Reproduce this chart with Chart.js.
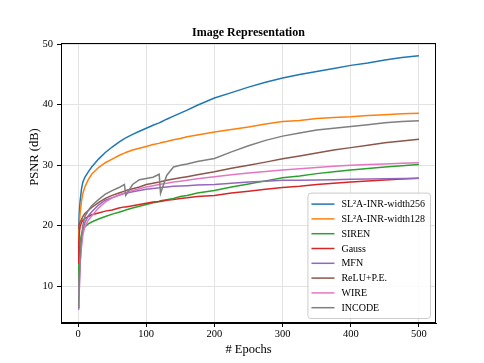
<!DOCTYPE html>
<html>
<head>
<meta charset="utf-8">
<script src="https://cdn.jsdelivr.net/npm/chart.js@4.4.0/dist/chart.umd.min.js"></script>
<style>
  body { margin: 0; background: #fff; }
  #wrap { width: 484px; height: 363px; }
</style>
</head>
<body>
<div id="wrap"><canvas id="psnrChart" width="484" height="363"></canvas></div>
<script>
// epochs sampled from the curves
const epochs = [0, 1, 2, 3, 5, 7, 10, 15, 20, 30, 40, 50, 60, 68, 70, 80, 90, 100, 110, 119, 121,
    130, 140, 150, 160, 175, 200, 225, 250, 275, 300, 325, 350, 375, 400, 425, 450, 475, 500];

const labels = ['SL²A-INR-width256', 'SL²A-INR-width128', 'SIREN', 'Gauss', 'MFN', 'ReLU+P.E.', 'WIRE', 'INCODE'];

const sl2aW256 = [17, 20, 22.5, 24, 26, 27.2, 28.0, 28.9, 29.7, 31.0, 32.1, 33.0, 33.8, 34.4, 34.5, 35.1, 35.6, 36.1, 36.6, 37.0, 37.1,
    37.6, 38.1, 38.6, 39.1, 39.9, 41.1, 42.0, 42.9, 43.7, 44.4, 45.0, 45.5, 46.0, 46.5, 46.9, 47.4, 47.8, 48.1];
const sl2aW128 = [16, 18.5, 20.5, 22, 24.0, 25.3, 26.4, 27.6, 28.5, 29.6, 30.4, 31.0, 31.6, 32.0, 32.1, 32.5, 32.8, 33.1, 33.4, 33.6, 33.7,
    33.9, 34.2, 34.4, 34.7, 35.0, 35.5, 35.9, 36.3, 36.8, 37.2, 37.4, 37.7, 37.9, 38.0, 38.2, 38.35, 38.5, 38.6];
const siren = [10, 13, 15.5, 17.2, 18.6, 19.3, 19.8, 20.3, 20.6, 21.1, 21.5, 21.9, 22.2, 22.5, 22.6, 22.9, 23.2, 23.5, 23.8, 24.0, 24.1,
    24.3, 24.5, 24.8, 25.0, 25.4, 25.8, 26.4, 26.9, 27.4, 27.9, 28.2, 28.6, 28.9, 29.2, 29.45, 29.7, 29.9, 30.1];
const gauss = [13.8, 17, 19, 19.8, 20.5, 20.9, 21.2, 21.5, 21.8, 22.1, 22.4, 22.6, 22.9, 23.1, 23.1, 23.3, 23.5, 23.7, 23.9, 24.0, 24.0,
    24.2, 24.3, 24.5, 24.6, 24.8, 25.0, 25.4, 25.7, 26.0, 26.3, 26.5, 26.8, 27.0, 27.2, 27.4, 27.55, 27.7, 27.85];
const mfn = [6.2, 7, 10, 13.5, 17, 19, 20.5, 21.6, 22.3, 23.4, 24.2, 24.6, 25.0, 25.3, 25.35, 25.6, 25.8, 26.0, 26.15, 26.25, 26.3,
    26.4, 26.5, 26.55, 26.6, 26.7, 26.8, 27.0, 27.2, 27.35, 27.5, 27.5, 27.55, 27.6, 27.65, 27.7, 27.75, 27.8, 27.85];
const reluPE = [19.5, 20, 20.3, 20.6, 21, 21.5, 22, 22.5, 23, 23.8, 24.5, 25.0, 25.4, 25.7, 25.8, 26.1, 26.4, 26.8, 27.0, 27.2, 27.25,
    27.5, 27.7, 27.9, 28.1, 28.4, 28.9, 29.5, 30.0, 30.5, 31.05, 31.5, 32.0, 32.5, 32.9, 33.3, 33.7, 34.0, 34.3];
const wire = [6.5, 8, 11, 14, 16.5, 18.5, 19.8, 20.9, 21.6, 22.9, 23.9, 24.6, 25.1, 25.4, 25.5, 25.8, 26.1, 26.4, 26.6, 26.8, 26.85,
    27.0, 27.2, 27.35, 27.5, 27.75, 28.1, 28.4, 28.7, 28.95, 29.2, 29.4, 29.6, 29.8, 30.0, 30.1, 30.2, 30.3, 30.4];
const incode = [6.5, 8, 12, 15, 18, 20, 21.5, 22.5, 23.3, 24.3, 25.2, 25.8, 26.3, 26.8, 25.0, 26.8, 27.6, 27.8, 28.0, 28.5, 25.3,
    28.3, 29.7, 30.0, 30.2, 30.6, 31.1, 32.2, 33.2, 34.1, 34.8, 35.3, 35.8, 36.1, 36.4, 36.7, 37.0, 37.2, 37.35];

const xTicks = [0, 100, 200, 300, 400, 500];
const yTicks = [10, 20, 30, 40, 50];

const colors = ['#1f77b4', '#ff7f0e', '#2ca02c', '#d62728', '#9467bd', '#8c564b', '#e377c2', '#7f7f7f'];
const series = [sl2aW256, sl2aW128, siren, gauss, mfn, reluPE, wire, incode];

const serif = "'Liberation Serif', 'DejaVu Serif', serif";
Chart.defaults.font.family = serif;
Chart.defaults.color = '#000';

const datasets = series.map((vals, i) => ({
    label: labels[i],
    data: vals.map((v, j) => ({ x: epochs[j], y: v })),
    borderColor: colors[i],
    backgroundColor: colors[i],
    borderWidth: 1.5,
    pointRadius: 0,
    tension: 0,
    order: series.length - 1 - i   // later series on top, like matplotlib
}));

// frame, title, y label and the boxed legend inside the plot
const extras = {
    id: 'extras',
    beforeDraw(chart) {
        const ctx = chart.ctx;
        ctx.save();
        ctx.fillStyle = '#fff';
        ctx.fillRect(0, 0, chart.width, chart.height);
        ctx.restore();
    },
    afterDraw(chart) {
        const ctx = chart.ctx;
        const a = chart.chartArea;
        ctx.save();
        ctx.strokeStyle = '#000';
        ctx.lineWidth = 1;
        ctx.strokeRect(Math.round(a.left) + 0.5, Math.round(a.top) + 0.5,
            Math.round(a.right - a.left) - 1, Math.round(a.bottom - a.top) - 1);

        ctx.fillStyle = '#000';
        ctx.font = 'bold 12px ' + serif;
        ctx.textAlign = 'center';
        ctx.textBaseline = 'middle';
        ctx.fillText('Image Representation', (a.left + a.right) / 2, 33);

        ctx.font = '12.5px ' + serif;
        ctx.translate(35, 157);
        ctx.rotate(-Math.PI / 2);
        ctx.fillText('PSNR (dB)', 0, 0);
        ctx.restore();

        // legend
        ctx.save();
        ctx.font = '10px ' + serif;
        let maxW = 0;
        chart.data.datasets.forEach(d => { maxW = Math.max(maxW, ctx.measureText(d.label).width); });
        const rowH = 14.8;
        const boxW = 34 + maxW + 5;
        const boxH = rowH * chart.data.datasets.length + 7;
        const bx = a.right - 6 - boxW;
        const by = a.bottom - 5 - boxH;
        ctx.beginPath();
        ctx.roundRect(bx + 0.5, by + 0.5, boxW, boxH, 3);
        ctx.fillStyle = 'rgba(255,255,255,0.85)';
        ctx.fill();
        ctx.strokeStyle = '#cccccc';
        ctx.lineWidth = 1;
        ctx.stroke();
        chart.data.datasets.forEach((d, i) => {
            const y = by + 11.5 + i * rowH;
            ctx.beginPath();
            ctx.moveTo(bx + 4, y);
            ctx.lineTo(bx + 27, y);
            ctx.strokeStyle = d.borderColor;
            ctx.lineWidth = 1.5;
            ctx.stroke();
            ctx.fillStyle = '#000';
            ctx.textAlign = 'left';
            ctx.textBaseline = 'middle';
            ctx.fillText(d.label, bx + 34, y + 0.5);
        });
        ctx.restore();
    }
};

const ctx = document.getElementById('psnrChart').getContext('2d');
new Chart(ctx, {
    type: 'line',
    data: { datasets: datasets },
    plugins: [extras],
    options: {
        responsive: false,
        animation: false,
        layout: { padding: { top: 43, right: 48, left: 0, bottom: 0 } },
        plugins: {
            legend: { display: false },
            title: { display: false },
            tooltip: { enabled: false }
        },
        scales: {
            x: {
                type: 'linear',
                min: -25,
                max: 525,
                afterFit: s => { s.height = 40; },
                afterBuildTicks: s => { s.ticks = xTicks.map(v => ({ value: v })); },
                grid: { color: '#e3e3e3', tickColor: '#000', tickLength: 4 },
                border: { color: '#000' },
                ticks: { font: { size: 10.5 }, padding: 1, maxRotation: 0 },
                title: { display: true, text: '# Epochs', font: { size: 12.5 }, padding: { top: 0, bottom: 6 } }
            },
            y: {
                type: 'linear',
                min: 3.9,
                max: 50.2,
                afterFit: s => { s.width = 61; },
                afterBuildTicks: s => { s.ticks = yTicks.map(v => ({ value: v })); },
                grid: { color: '#e3e3e3', tickColor: '#000', tickLength: 4 },
                border: { color: '#000' },
                ticks: { font: { size: 10.5 }, padding: 4 }
            }
        }
    }
});
</script>
</body>
</html>
